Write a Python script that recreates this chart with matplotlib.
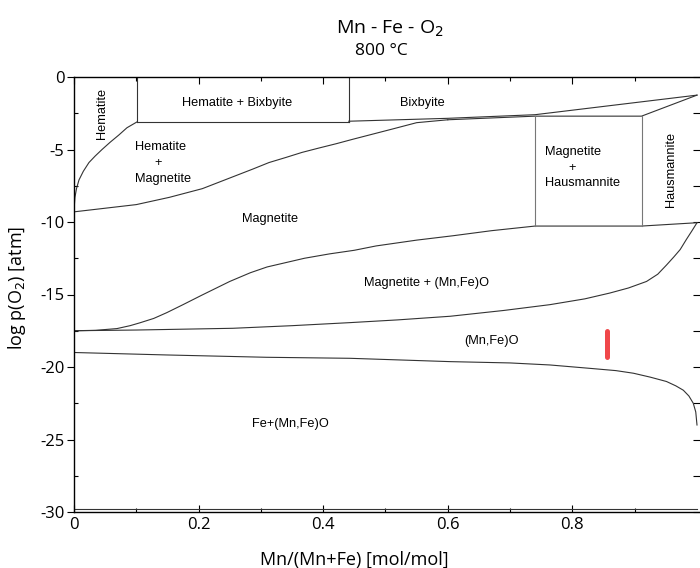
import numpy as np
import matplotlib.pyplot as plt

# phase boundaries, Mn-Fe-O2 at 800 C
# x = Mn/(Mn+Fe), y = log p(O2)
hem_x = [0.101, 0.085, 0.072, 0.058, 0.045, 0.034, 0.024, 0.015, 0.008, 0.004, 0.0015, 0.0]
hem_y = [-3.1, -3.5, -4.0, -4.5, -5.0, -5.45, -5.9, -6.5, -7.1, -7.7, -8.3, -9.2]

hem_mag_x = [0.0, 0.05, 0.1, 0.153, 0.206, 0.233, 0.26, 0.287, 0.313, 0.34, 0.366,
             0.393, 0.421, 0.447, 0.474, 0.51, 0.55, 0.60]
hem_mag_y = [-9.3, -9.05, -8.8, -8.3, -7.7, -7.25, -6.8, -6.35, -5.9, -5.55, -5.2,
             -4.9, -4.6, -4.3, -4.0, -3.6, -3.15, -2.95]

bix_x = [0.441, 0.60, 0.74, 1.0]
bix_y = [-3.05, -2.85, -2.6, -1.25]

haus_top_x = [0.60, 0.74, 0.911, 1.0]
haus_top_y = [-2.95, -2.7, -2.7, -1.25]

hem_bix_x = [0.101, 0.441]
hem_bix_y = [-3.1, -3.1]

mag_x = [0.0, 0.035, 0.069, 0.09, 0.106, 0.128, 0.149, 0.175, 0.205, 0.25, 0.283,
         0.31, 0.34, 0.37, 0.41, 0.45, 0.485, 0.55, 0.608, 0.67, 0.74, 0.911, 1.0]
mag_y = [-17.5, -17.47, -17.35, -17.15, -16.95, -16.65, -16.25, -15.7, -15.05, -14.1, -13.5,
         -13.1, -12.8, -12.5, -12.2, -11.95, -11.65, -11.25, -10.95, -10.6, -10.28, -10.28, -10.05]

wus_top_x = [0.0, 0.1, 0.255, 0.35, 0.443, 0.52, 0.604, 0.69, 0.764, 0.82, 0.86, 0.89,
             0.919, 0.937, 0.951, 0.963, 0.973, 0.983, 0.992, 1.0]
wus_top_y = [-17.5, -17.45, -17.33, -17.15, -16.94, -16.75, -16.5, -16.1, -15.7, -15.3, -14.9, -14.55,
             -14.1, -13.6, -12.97, -12.4, -11.9, -11.2, -10.6, -10.05]

wus_bot_x = [0.0, 0.149, 0.309, 0.443, 0.604, 0.70, 0.764, 0.83, 0.87, 0.898, 0.925,
             0.951, 0.966, 0.978, 0.987, 0.994, 0.998, 1.0]
wus_bot_y = [-19.0, -19.17, -19.33, -19.4, -19.63, -19.72, -19.86, -20.1, -20.25, -20.43, -20.7,
             -21.0, -21.3, -21.6, -22.0, -22.5, -23.1, -24.0]

# two-phase box Magnetite + Hausmannite
box_x = [0.74, 0.911]
box_top = -2.7
box_bot = -10.28

# measured composition
meas_x = 0.855
meas_y = [-17.5, -19.3]

# text, x, y, rotation, alignment
labels = [
    ('Hematite', 0.0445, -2.5, 90, 'center'),
    ('Hematite + Bixbyite', 0.262, -1.77, 0, 'center'),
    ('Bixbyite', 0.559, -1.8, 0, 'center'),
    ('Hematite', 0.098, -4.8, 0, 'left'),
    ('+', 0.135, -5.95, 0, 'center'),
    ('Magnetite', 0.098, -7.03, 0, 'left'),
    ('Magnetite', 0.315, -9.8, 0, 'center'),
    ('Magnetite', 0.756, -5.15, 0, 'left'),
    ('+', 0.8, -6.25, 0, 'center'),
    ('Hausmannite', 0.756, -7.33, 0, 'left'),
    ('Hausmannite', 0.959, -6.4, 90, 'center'),
    ('Magnetite + (Mn,Fe)O', 0.566, -14.19, 0, 'center'),
    ('(Mn,Fe)O', 0.67, -18.18, 0, 'center'),
    ('Fe+(Mn,Fe)O', 0.347, -23.9, 0, 'center'),
]

x_ticks = [0, 0.2, 0.4, 0.6, 0.8]
x_ticklabels = ['0', '0.2', '0.4', '0.6', '0.8']

plt.rcParams['font.family'] = ['Open Sans', 'DejaVu Sans']
plt.rcParams['axes.unicode_minus'] = False

fig = plt.figure(figsize=(7, 5.68), dpi=100)
ax = fig.add_axes([74 / 700, 56 / 568, 626 / 700, 435 / 568])

lc = '#333333'
lw = 0.8
for xs, ys in [(hem_x, hem_y), (hem_mag_x, hem_mag_y), (bix_x, bix_y),
               (haus_top_x, haus_top_y), (hem_bix_x, hem_bix_y),
               (mag_x, mag_y), (wus_top_x, wus_top_y), (wus_bot_x, wus_bot_y)]:
    ax.plot(xs, ys, color=lc, lw=lw)

ax.plot([hem_bix_x[0]] * 2, [0, hem_bix_y[0]], color=lc, lw=lw)
ax.plot([hem_bix_x[1]] * 2, [0, hem_bix_y[1]], color=lc, lw=lw)
for bx in box_x:
    ax.plot([bx, bx], [box_top, box_bot], color='#777777', lw=lw)
ax.plot([0, 1], [-29.8, -29.8], color=lc, lw=lw)

ax.plot([meas_x, meas_x], meas_y, color='#f0474a', lw=3.6, solid_capstyle='round')

for txt, tx, ty, rot, ha in labels:
    ax.text(tx, ty, txt, ha=ha, va='center', rotation=rot,
            fontsize=9.2, family=['Liberation Sans', 'DejaVu Sans'])

ax.set_xlim(0, 626 / 623)
ax.set_ylim(-30, 0)
ax.spines['right'].set_visible(False)
for s in ['left', 'bottom', 'top']:
    ax.spines[s].set_linewidth(1.0)

ax.set_xticks(x_ticks)
ax.set_xticklabels(x_ticklabels)
ax.set_xticks(np.arange(0.1, 1.0, 0.1), minor=True)
ax.set_yticks(np.arange(-30, 1, 5))
ax.set_yticks(np.arange(-27.5, 0, 5), minor=True)
ax.tick_params(axis='x', which='both', direction='in', top=True, length=5, width=0.8, labelsize=12)
ax.tick_params(axis='x', which='minor', length=3)
ax.tick_params(axis='y', which='major', direction='out', length=5, width=0.8, labelsize=12, pad=2)
ax.tick_params(axis='y', which='minor', direction='in', length=3, width=0.8)

# inward ticks on the right edge
ax_r = ax.secondary_yaxis('right')
ax_r.set_yticks(np.arange(-30, 1, 2.5))
ax_r.tick_params(direction='in', length=5, width=0.8, labelright=False)
ax_r.spines['right'].set_visible(False)

ax.set_xlabel('Mn/(Mn+Fe) [mol/mol]', fontsize=13)
ax.xaxis.set_label_coords((354 - 74) / 626, -0.09)
ax.set_ylabel('log p(O$_2$) [atm]', fontsize=13)
ax.yaxis.set_label_coords((28 - 74) / 626, 0.515)

fig.text(390 / 700, 1 - 29 / 568, 'Mn - Fe - O$_2$', ha='center', va='center', fontsize=14)
fig.text(381 / 700, 1 - 51 / 568, '800 °C', ha='center', va='center', fontsize=12.5)

plt.savefig('out.png', dpi=100)
